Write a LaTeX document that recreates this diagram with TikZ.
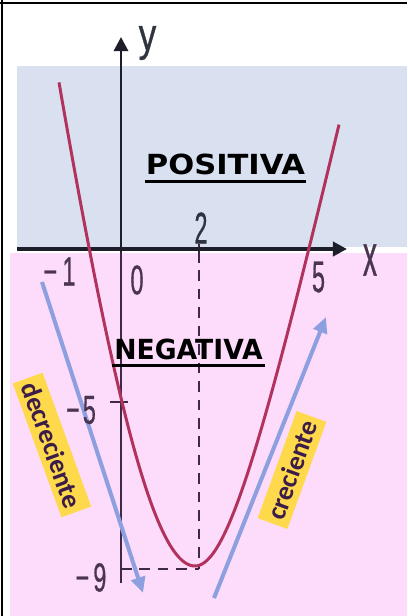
\documentclass[tikz,border=0pt]{standalone}
\usepackage{fontspec}
\setmainfont{Liberation Sans}
\newfontfamily\dejavu{DejaVu Sans}
\newfontfamily\carl{Carlito}
\newfontfamily\numfont{Liberation Sans}[FakeBold=0.8]
\usetikzlibrary{arrows.meta,calc}
\definecolor{bluebg}{HTML}{D9E1F1}
\definecolor{pinkbg}{HTML}{FCDCFA}
\definecolor{curvec}{HTML}{B2325E}
\definecolor{arrowblue}{HTML}{8E9FE0}
\definecolor{yellowbox}{HTML}{FFD94C}
\definecolor{labpurple}{HTML}{3B1D4A}
\definecolor{numc}{HTML}{4A3450}
\definecolor{numdark}{HTML}{2E3540}
\definecolor{axisdark}{HTML}{1E1E2A}
\definecolor{axispurple}{HTML}{3E2A46}
\begin{document}
\begin{tikzpicture}[x=0.02cm,y=-0.02cm,
  numlab/.style={text=numc,font=\numfont\fontsize{23}{23}\selectfont,inner sep=0pt},
  title/.style={font=\dejavu\bfseries\fontsize{15}{15}\selectfont,inner sep=0pt,text=black},
  uline/.style={line width=1.7pt,black},
  curvepath/.style={curvec,line width=1.7pt},
  barrow/.style={arrowblue,line width=2.3pt,-{Triangle[length=9pt,width=8pt]}},
  axisline/.style={line width=2.2pt,axisdark,-{Triangle[length=8pt,width=8pt]}},
  dashline/.style={axispurple,line width=1.4pt,dash pattern=on 6pt off 4.5pt},
  tickline/.style={axispurple,line width=1.3pt},
  ybox/.style={fill=yellowbox,text=labpurple,font=\carl\bfseries\fontsize{15.5}{16}\selectfont,
    inner xsep=3pt,inner ysep=0pt,minimum height=18pt}
]
\useasboundingbox (0,0) rectangle (407,616);
% backgrounds
\fill[pinkbg] (10,253) rectangle (407,616);
\fill[bluebg] (17,66) rectangle (407,247);
% frame
\draw[black,line width=1.7pt] (0,3) -- (407,3);
\draw[black,line width=1.7pt] (2,0) -- (2,616);
% dashed guides
\coordinate (vtop) at (199,252);
\coordinate (vbot) at (199,569);
\coordinate (hleft) at (121,569);
\draw[dashline] (vtop) -- (vbot);
\draw[dashline] (hleft) -- (vbot);
% ticks
\coordinate (t5a) at (110,402);
\coordinate (t5b) at (128,402);
\draw[tickline] (t5a) -- (t5b);
\coordinate (t2a) at (199,244);
\coordinate (t2b) at (199,252);
\draw[tickline] (t2a) -- (t2b);
% axes
\coordinate (ybot) at (121,583);
\coordinate (ymid) at (121,252);
\coordinate (ytop) at (121,37);
\draw[axispurple,line width=1.7pt] (ybot) -- (ymid);
\draw[axisline,line width=1.7pt] (ymid) -- (ytop);
\coordinate (xs) at (17,249);
\coordinate (xe) at (347,249);
\draw[axisline] (xs) -- (xe);
% parabola (left and right halves)
\draw[curvepath,line join=round]
  plot[domain=59:195,samples=60] (\x,{566-7.45*(10*sqrt(((\x-195)/10)^2+121)-110)})
  -- plot[domain=195:339,samples=60] (\x,{566-4.51*(10*sqrt(((\x-195)/10)^2+32.49)-57)});
% blue arrows
\coordinate (d1) at (42,282);
\coordinate (d2) at (143,593);
\draw[barrow] (d1) -- (d2);
\coordinate (c1) at (214,598);
\coordinate (c2) at (326,317);
\draw[barrow] (c1) -- (c2);
% axis labels
\node[numlab,text=numdark,font=\numfont\fontsize{25}{25}\selectfont] (ylab) at (147.5,43) {\scalebox{0.8}[1.05]{y}};
\node[numlab,font=\numfont\fontsize{26}{26}\selectfont] (xlab) at (370,260) {\scalebox{0.62}[1.3]{x}};
\node[numlab,text=numdark] (n2) at (201,228) {\scalebox{0.58}[1.1]{2}};
\node[numlab] (nm1) at (59.5,271.5) {\scalebox{0.58}[1.02]{−\hspace{5pt}1}};
\node[numlab] (n0) at (137,280) {\scalebox{0.58}[1.02]{0}};
\node[numlab] (n5) at (318.5,277) {\scalebox{0.58}[1.1]{5}};
\node[numlab] (nm5) at (81,410) {\scalebox{0.58}[1]{−\hspace{3pt}5}};
\node[numlab] (nm9) at (91,577.5) {\scalebox{0.58}[1]{−\hspace{4pt}9}};
% titles
\node[title] (pos) at (225.5,164.5) {\scalebox{1.16}[1.05]{POSITIVA}};
\draw[uline] ($(pos.south west)+(-1,6)$) -- ($(pos.south east)+(1,6)$);
\node[title] (neg) at (188.5,349) {\scalebox{1.01}[1.05]{NEGATIVA}};
\draw[uline] ($(neg.south west)+(-2,6)$) -- ($(neg.south east)+(2,6)$);
% yellow labels
\node[ybox,rotate=-70,minimum width=80pt] (dec) at (52,445) {decreciente};
\node[ybox,rotate=70,minimum width=62pt] (cre) at (292,470) {creciente};
\end{tikzpicture}
\end{document}
